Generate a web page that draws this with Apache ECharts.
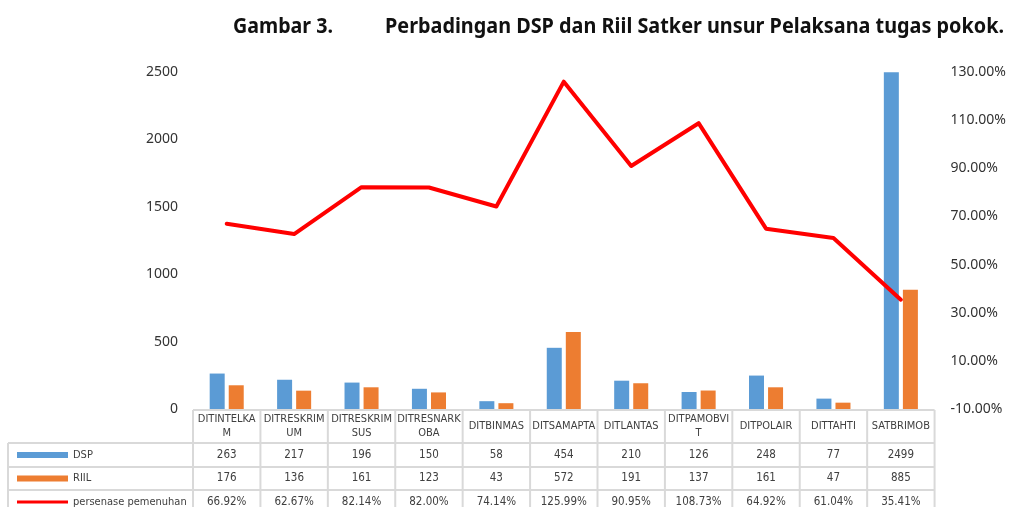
<!DOCTYPE html>
<html><head><meta charset="utf-8">
<script src="https://cdn.jsdelivr.net/npm/echarts@6/dist/echarts.min.js"></script>
<style>html,body{margin:0;padding:0;background:#fff}#c{width:1009px;height:507px}</style>
</head><body><div id="c"></div>
<script>
const categories = ['DITINTELKAM','DITRESKRIMUM','DITRESKRIMSUS','DITRESNARKOBA','DITBINMAS','DITSAMAPTA','DITLANTAS','DITPAMOBVIT','DITPOLAIR','DITTAHTI','SATBRIMOB'];
const tickLabels = ['DITINTELKA\nM','DITRESKRIM\nUM','DITRESKRIM\nSUS','DITRESNARK\nOBA','DITBINMAS','DITSAMAPTA','DITLANTAS','DITPAMOBVI\nT','DITPOLAIR','DITTAHTI','SATBRIMOB'];
const dsp = [263,217,196,150,58,454,210,126,248,77,2499];
const riil = [176,136,161,123,43,572,191,137,161,47,885];
const persen = [66.92,62.67,82.14,82.00,74.14,125.99,90.95,108.73,64.92,61.04,35.41];
const seriesNames = ['DSP','RIIL','persenase pemenuhan'];
const leftAxis = {min:0, max:2500, interval:500};
const rightAxis = {min:-10, max:130, interval:20};
const titleLeft = 'Gambar 3.';
const titleRight = 'Perbadingan DSP dan Riil Satker unsur Pelaksana tugas pokok.';

const BLUE='#5B9BD5', ORANGE='#ED7D31', RED='#FF0000';
const NARROW = '"Liberation Sans Narrow","DejaVu Sans Condensed",Roboto,sans-serif';
const AXISFONT = '"Noto Sans",sans-serif';
const chart = echarts.init(document.getElementById('c'));
chart.setOption({
  animation:false,
  grid:{left:193,right:71,top:72,bottom:98,containLabel:false},
  xAxis:{type:'category',data:categories,
    axisLine:{show:false},axisTick:{show:false},
    axisLabel:{interval:0,formatter:(v,i)=>tickLabels[i],fontFamily:NARROW,fontSize:11,lineHeight:14,
      color:'#404040',verticalAlign:'middle',margin:17}},
  yAxis:[
    {type:'value',min:leftAxis.min,max:leftAxis.max,interval:leftAxis.interval,
      splitLine:{show:false},axisLine:{show:false},axisTick:{show:false},
      axisLabel:{fontFamily:AXISFONT,fontSize:14,color:'#333',margin:15,formatter:v=>String(v)}},
    {type:'value',min:rightAxis.min,max:rightAxis.max,interval:rightAxis.interval,
      splitLine:{show:false},axisLine:{show:false},axisTick:{show:false},
      axisLabel:{fontFamily:AXISFONT,fontSize:14,color:'#333',margin:16,formatter:v=>v.toFixed(2)+'%'}}
  ],
  series:[
    {name:seriesNames[0],type:'bar',data:dsp,barWidth:15,barGap:'27%',itemStyle:{color:BLUE}},
    {name:seriesNames[1],type:'bar',data:riil,barWidth:15,barGap:'27%',itemStyle:{color:ORANGE}},
    {name:seriesNames[2],type:'line',yAxisIndex:1,data:persen,symbol:'none',z:5,
      lineStyle:{color:RED,width:4,join:'round',cap:'round'}}
  ]
});

function measure(text,font){const c=document.createElement('canvas').getContext('2d');c.font=font;return c.measureText(text).width;}

function drawTable(){
  const xs = categories.map((c,i)=>chart.convertToPixel({xAxisIndex:0}, i));
  const w = xs[1]-xs[0];
  const x0 = xs[0]-w/2, x1 = xs[xs.length-1]+w/2;
  const yTop = Math.round(chart.convertToPixel({yAxisIndex:0}, 0))+1;
  const rowsY = [yTop, yTop+33, yTop+57, yTop+80, yTop+104];
  const legX = 8;
  const g = [];
  const LC = '#D9D9D9';
  const line = (xa,ya,xb,yb)=>g.push({type:'line',shape:{x1:xa,y1:ya,x2:xb,y2:yb},style:{stroke:LC,lineWidth:2},silent:true});
  line(x0,rowsY[0],x1,rowsY[0]);
  for(let r=1;r<4;r++) line(legX,rowsY[r],x1,rowsY[r]);
  for(let i=0;i<=categories.length;i++){ const x=x0+i*w; line(x,rowsY[0],x,rowsY[4]); }
  line(legX,rowsY[1],legX,rowsY[4]);
  const rowData=[dsp,riil,persen.map(v=>v.toFixed(2)+'%')];
  const keyColors=[BLUE,ORANGE,RED];
  for(let r=0;r<3;r++){
    const cy=(rowsY[r+1]+rowsY[r+2])/2;
    const kh = r===2?3:6;
    g.push({type:'rect',shape:{x:17,y:cy-kh/2,width:51,height:kh},style:{fill:keyColors[r]},silent:true});
    g.push({type:'text',x:73,y:cy,style:{text:seriesNames[r],font:'11px '+NARROW,fill:'#404040',textVerticalAlign:'middle',textAlign:'left'},silent:true});
    rowData[r].forEach((v,i)=>{
      g.push({type:'text',x:xs[i],y:cy,style:{text:String(v),font:'11.5px '+NARROW,fill:'#404040',textAlign:'center',textVerticalAlign:'middle'},silent:true});
    });
  }
  const tf = 'bold 22px "Noto Sans",sans-serif';
  const s1 = 100/measure(titleLeft,tf), s2 = 619/measure(titleRight,tf);
  g.push({type:'text',x:233,y:27,scaleX:s1,style:{text:titleLeft,font:tf,fill:'#111',textVerticalAlign:'middle',textAlign:'left'}});
  g.push({type:'text',x:1004,y:27,scaleX:s2,style:{text:titleRight,font:tf,fill:'#111',textVerticalAlign:'middle',textAlign:'right'}});
  chart.setOption({graphic:g});
}
drawTable();
</script></body></html>
